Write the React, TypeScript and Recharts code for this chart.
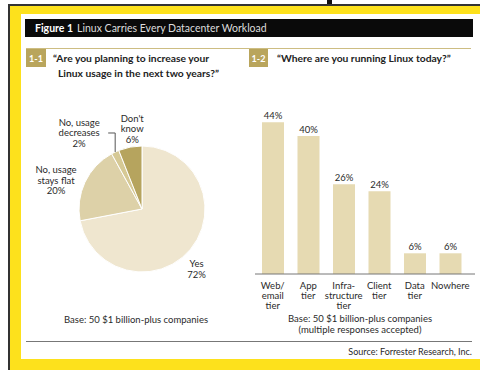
import React from 'react';
import { PieChart, Pie, Cell, BarChart, Bar, XAxis, YAxis, LabelList } from 'recharts';

// Figure 1-1: plans for Linux usage
const pieNames = ['Yes\n72%', 'No, usage\nstays flat\n20%', 'No, usage\ndecreases\n2%', "Don't\nknow\n6%"];
const pieValues = [72, 20, 2, 6];

// Figure 1-2: where Linux runs today
const barCategories = ['Web/\nemail\ntier', 'App\ntier', 'Infra-\nstructure\ntier', 'Client\ntier', 'Data\ntier', 'Nowhere'];
const barValues = [44, 40, 26, 24, 6, 6];

const pieData = pieNames.map((name, i) => ({ name, value: pieValues[i] }));
const barData = barCategories.map((cat, i) => ({ cat, value: barValues[i] }));

const PIE_COLORS = ['#efe6cf', '#ddd1a8', '#d6c995', '#b6a45e'];
const BAR_COLOR = '#e6dab2';
const FONT = 'Lato, "Open Sans", sans-serif';
const TEXT = '#2a2a2a';

// label offsets from the slice's outer point
const LABEL_OFFSETS = [
    { dx: 6, dy: 20 },
    { dx: -29, dy: -2 },
    { dx: -36, dy: -19 },
    { dx: 2, dy: -18 },
];
const RADIAN = Math.PI / 180;

const PieLabel = (props: any) => {
    const { cx, cy, midAngle, outerRadius, index, name } = props;
    const ax = cx + outerRadius * Math.cos(-midAngle * RADIAN);
    const ay = cy + outerRadius * Math.sin(-midAngle * RADIAN);
    const off = LABEL_OFFSETS[index];
    const lines = String(name).split('\n');
    const lh = 10.5;
    const x = ax + off.dx;
    const y0 = ay + off.dy - ((lines.length - 1) * lh) / 2;
    return (
        <g>
            {index === 2 && (
                <path d={`M${ax},${ay} L${ax},${ay + off.dy} L${ax - 7},${ay + off.dy}`} stroke="#555" fill="none" strokeWidth={1} />
            )}
            <text x={x} textAnchor="middle" fontSize={9.5} fill={TEXT} fontFamily={FONT}>
                {lines.map((l, i) => (
                    <tspan key={i} x={x} y={y0 + i * lh} dy="0.35em">{l}</tspan>
                ))}
            </text>
        </g>
    );
};

const CatTick = (props: any) => {
    const { x, y, payload } = props;
    const lines = String(payload.value).split('\n');
    return (
        <text x={x} y={y} textAnchor="middle" fontSize={9.5} fill={TEXT} fontFamily={FONT}>
            {lines.map((l, i) => (
                <tspan key={i} x={x} y={y + 3.5 + i * 10} dy="0.35em">{l}</tspan>
            ))}
        </text>
    );
};

const abs = (left: number, top: number, extra: React.CSSProperties = {}): React.CSSProperties => ({
    position: 'absolute', left, top, ...extra,
});

export default function App() {
    return (
        <div style={{ position: 'fixed', left: 0, top: 0, width: 480, height: 370, background: '#fff', overflow: 'hidden', fontFamily: FONT, color: TEXT }}>
            {/* frame */}
            <div style={abs(327, 0, { width: 5, height: 5, background: '#111' })} />
            <div style={abs(8, 4, { width: 472, height: 1.5, background: '#333' })} />
            <div style={abs(8, 4, { width: 2, height: 366, background: '#333' })} />
            <div style={abs(10, 5.5, { width: 470, height: 365, background: '#fde11c' })} />
            <div style={abs(21, 14, { width: 459, height: 345, background: '#fff' })} />

            {/* title bar */}
            <div style={abs(25, 19, { width: 448, height: 18, background: '#0a0a0a', display: 'flex', alignItems: 'center', paddingLeft: 10, boxSizing: 'border-box', fontSize: 10.5, color: '#ddd', whiteSpace: 'nowrap' })}>
                <b style={{ color: '#fff', marginRight: 4 }}>Figure 1</b>Linux Carries Every Datacenter Workload
            </div>

            <div style={abs(26, 47.5, { width: 445, height: 1.5, background: '#cdbd82' })} />
            <div style={abs(26, 49, { width: 20, height: 18, background: '#b9a55c', color: '#fff', fontSize: 9, fontWeight: 700, display: 'flex', alignItems: 'center', justifyContent: 'center' })}>1-1</div>
            <div style={abs(249, 49, { width: 19, height: 18, background: '#b9a55c', color: '#fff', fontSize: 9, fontWeight: 700, display: 'flex', alignItems: 'center', justifyContent: 'center' })}>1-2</div>
            <div style={abs(53, 51, { fontSize: 10.3, fontWeight: 700, lineHeight: '14.5px', color: '#222', whiteSpace: 'nowrap' })}>
                “Are you planning to increase your<br />
                <span style={{ paddingLeft: 5 }}>Linux usage in the next two years?”</span>
            </div>
            <div style={abs(277, 51, { fontSize: 10.3, fontWeight: 700, lineHeight: '14.5px', color: '#222', whiteSpace: 'nowrap' })}>
                “Where are you running Linux today?”
            </div>

            {/* pie */}
            <div style={abs(0, 80)}>
                <PieChart width={250} height={230}>
                    <Pie
                        data={pieData}
                        dataKey="value"
                        nameKey="name"
                        cx={137}
                        cy={124}
                        outerRadius={63}
                        startAngle={90}
                        endAngle={-270}
                        stroke="#fff"
                        strokeWidth={1}
                        labelLine={false}
                        label={PieLabel}
                        isAnimationActive={false}
                    >
                        {pieData.map((d, i) => (
                            <Cell key={d.name} fill={PIE_COLORS[i]} />
                        ))}
                    </Pie>
                </PieChart>
            </div>
            <div style={abs(36, 314, { width: 200, textAlign: 'center', fontSize: 9.5 })}>Base: 50 $1 billion-plus companies</div>

            {/* bars */}
            <div style={abs(250, 90)}>
                <BarChart width={225} height={250} data={barData} margin={{ top: 11.5, right: 0, bottom: 0, left: 5 }}>
                    <YAxis hide domain={[0, 50]} />
                    <XAxis
                        dataKey="cat"
                        interval={0}
                        height={66}
                        tickLine={false}
                        stroke="#777"
                        padding={{ left: 0, right: 7 }}
                        tick={<CatTick />}
                    />
                    <Bar dataKey="value" fill={BAR_COLOR} barSize={22} isAnimationActive={false}>
                        <LabelList dataKey="value" position="top" offset={3} formatter={(v: any) => `${v}%`} fontSize={9.5} fill={TEXT} fontFamily={FONT} />
                    </Bar>
                </BarChart>
            </div>
            <div style={abs(260, 313, { width: 200, textAlign: 'center', fontSize: 9.5, lineHeight: '11px' })}>
                Base: 50 $1 billion-plus companies<br />(multiple responses accepted)
            </div>

            <div style={abs(26, 340.5, { width: 446, height: 1, background: '#777' })} />
            <div style={abs(272, 346, { width: 200, textAlign: 'right', fontSize: 9 })}>Source: Forrester Research, Inc.</div>
        </div>
    );
}
